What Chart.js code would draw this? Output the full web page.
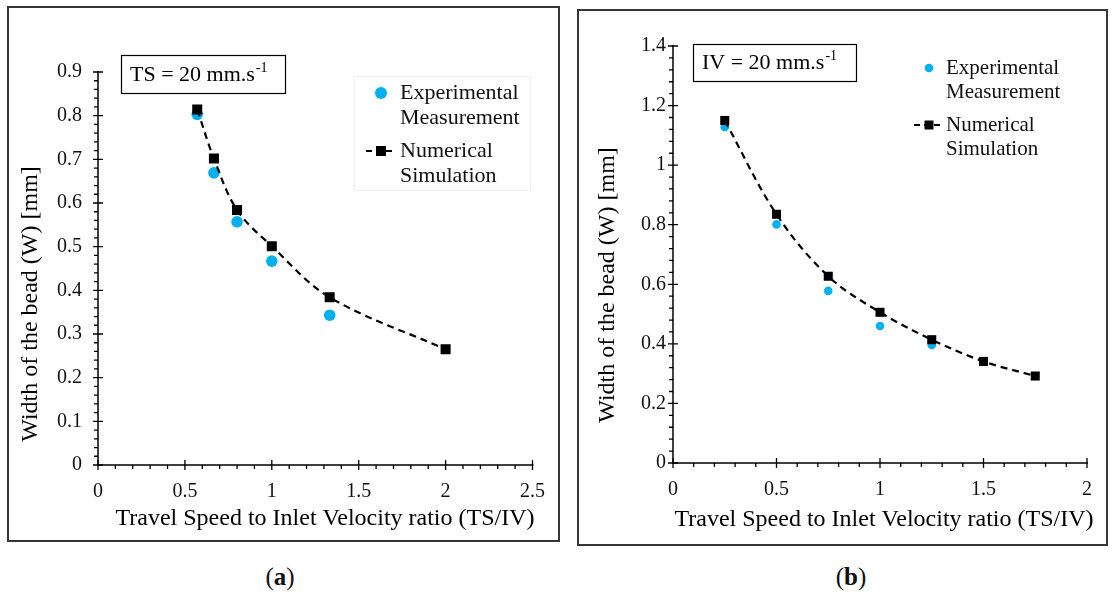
<!DOCTYPE html>
<html>
<head>
<meta charset="utf-8">
<script src="https://cdn.jsdelivr.net/npm/chart.js@4.4.1/dist/chart.umd.min.js"></script>
<style>
  html, body { margin: 0; padding: 0; background: #fff; }
  body { width: 1113px; height: 597px; position: relative; overflow: hidden; }
  .frame { position: absolute; border: 2px solid #363636; box-sizing: border-box; }
  canvas { position: absolute; }
  .cap { position: absolute; top: 563px; width: 80px; text-align: center;
         font-family: 'Liberation Serif', 'Times New Roman', serif; font-size: 25px; color: #111; }
</style>
</head>
<body>
<div class="frame" style="left:7px;top:6px;width:553px;height:536px;"></div>
<div class="frame" style="left:577px;top:9px;width:531px;height:537px;"></div>
<canvas id="chartA" width="560" height="545" style="left:0;top:0;"></canvas>
<canvas id="chartB" width="543" height="550" style="left:570px;top:0;"></canvas>
<div class="cap" style="left:240px;">(<b>a</b>)</div>
<div class="cap" style="left:811px;">(<b>b</b>)</div>

<script>
// ---- (a) constant travel speed, TS = 20 mm/s ----
const ratioSimA = [0.571, 0.667, 0.8, 1.0, 1.333, 2.0];
const widthSimA = [0.814, 0.702, 0.584, 0.501, 0.384, 0.265];
const ratioExpA = [0.571, 0.667, 0.8, 1.0, 1.333];
const widthExpA = [0.803, 0.669, 0.557, 0.467, 0.343];
const xTicksA = [0, 0.5, 1, 1.5, 2, 2.5];
const yTicksA = [0, 0.1, 0.2, 0.3, 0.4, 0.5, 0.6, 0.7, 0.8, 0.9];

// ---- (b) constant inlet velocity, IV = 20 mm/s ----
const ratioSimB = [0.25, 0.5, 0.75, 1.0, 1.25, 1.5, 1.75];
const widthSimB = [1.15, 0.835, 0.627, 0.506, 0.414, 0.341, 0.292];
const ratioExpB = [0.25, 0.5, 0.75, 1.0, 1.25];
const widthExpB = [1.128, 0.801, 0.578, 0.460, 0.396];
const xTicksB = [0, 0.5, 1, 1.5, 2];
const yTicksB = [0, 0.2, 0.4, 0.6, 0.8, 1, 1.2, 1.4];

const expLabel = ['Experimental', 'Measurement'];
const simLabel = ['Numerical', 'Simulation'];
const xTitle = 'Travel Speed to Inlet Velocity ratio (TS/IV)';
const yTitle = 'Width of the bead (W) [mm]';

const SERIF = "'Liberation Serif', 'Times New Roman', serif";
const BLUE = '#00b0f0';

// Axis lines, crossing major ticks, minor ticks, titles, note box and legend
const decor = {
  id: 'decor',
  afterDraw(chart, args, o) {
    const { ctx, chartArea: ca, scales: { x, y } } = chart;
    ctx.save();
    ctx.strokeStyle = '#000';
    ctx.fillStyle = '#000';
    ctx.lineWidth = 1.5;
    ctx.beginPath();
    ctx.moveTo(ca.left, ca.top - 1);
    ctx.lineTo(ca.left, ca.bottom);
    ctx.lineTo(ca.right + 1, ca.bottom);
    ctx.stroke();

    ctx.lineWidth = 1.3;
    const ny = Math.round((y.max - y.min) / o.yMinor);
    const yPer = Math.round(o.yMajor / o.yMinor);
    ctx.beginPath();
    for (let i = 0; i <= ny; i++) {
      const py = y.getPixelForValue(y.min + i * o.yMinor);
      if (i % yPer === 0) { ctx.moveTo(ca.left - 5, py); ctx.lineTo(ca.left + 5, py); }
      else { ctx.moveTo(ca.left - 4, py); ctx.lineTo(ca.left, py); }
    }
    const nx = Math.round((x.max - x.min) / o.xMinor);
    const xPer = Math.round(o.xMajor / o.xMinor);
    for (let i = 0; i <= nx; i++) {
      const px = x.getPixelForValue(x.min + i * o.xMinor);
      if (i % xPer === 0) { ctx.moveTo(px, ca.bottom - 5); ctx.lineTo(px, ca.bottom + 5); }
      else { ctx.moveTo(px, ca.bottom); ctx.lineTo(px, ca.bottom + 4); }
    }
    ctx.stroke();

    // axis titles
    ctx.font = `24px ${SERIF}`;
    ctx.textBaseline = 'middle';
    ctx.textAlign = 'center';
    ctx.fillText(xTitle, o.xTitle[0], o.xTitle[1]);
    ctx.save();
    ctx.translate(o.yTitle[0], o.yTitle[1]);
    ctx.rotate(-Math.PI / 2);
    ctx.fillText(yTitle, 0, 0);
    ctx.restore();

    // condition note box
    const b = o.note;
    ctx.lineWidth = 1.2;
    ctx.strokeRect(b.x + 0.5, b.y + 0.5, b.w, b.h);
    ctx.textAlign = 'left';
    ctx.font = `22px ${SERIF}`;
    ctx.fillText(b.text, b.tx, b.ty);
    const tw = ctx.measureText(b.text).width;
    ctx.font = `14px ${SERIF}`;
    ctx.fillText('-1', b.tx + tw + 1, b.ty - 7);

    // legend
    const L = o.legend;
    if (L.frame) {
      ctx.strokeStyle = '#efefef';
      ctx.lineWidth = 1;
      ctx.strokeRect(L.frame[0] + 0.5, L.frame[1] + 0.5, L.frame[2], L.frame[3]);
      ctx.strokeStyle = '#000';
    }
    ctx.fillStyle = BLUE;
    ctx.beginPath();
    ctx.arc(L.mx, L.y1, L.dotR, 0, Math.PI * 2);
    ctx.fill();
    ctx.strokeStyle = '#000';
    ctx.lineWidth = 2;
    ctx.setLineDash([6, 4]);
    ctx.beginPath();
    ctx.moveTo(L.mx - 15, L.y2);
    ctx.lineTo(L.mx + 11, L.y2);
    ctx.stroke();
    ctx.setLineDash([]);
    ctx.fillStyle = '#000';
    ctx.fillRect(L.mx - L.sq / 2, L.y2 - L.sq / 2, L.sq, L.sq);
    ctx.font = `${L.font}px ${SERIF}`;
    ctx.fillStyle = '#111';
    ctx.fillText(expLabel[0], L.tx, L.y1);
    ctx.fillText(expLabel[1], L.tx, L.y1 + L.gap);
    ctx.fillText(simLabel[0], L.tx, L.y2);
    ctx.fillText(simLabel[1], L.tx, L.y2 + L.gap);
    ctx.restore();
  }
};

function pts(xs, ys) { return xs.map((v, i) => ({ x: v, y: ys[i] })); }

function buildChart(id, s) {
  return new Chart(document.getElementById(id), {
    type: 'scatter',
    data: {
      datasets: [
        {
          label: expLabel.join(' '),
          data: pts(s.expX, s.expY),
          pointStyle: 'circle',
          pointRadius: s.dotR,
          pointBackgroundColor: BLUE,
          pointBorderWidth: 0,
          showLine: false,
          order: 1
        },
        {
          label: simLabel.join(' '),
          data: pts(s.simX, s.simY),
          pointStyle: 'rect',
          pointRadius: s.sqR,
          pointBackgroundColor: '#000',
          pointBorderColor: '#000',
          pointBorderWidth: 0,
          showLine: true,
          borderColor: '#000',
          borderWidth: 2.2,
          borderDash: [7, 5],
          tension: 0.35,
          order: 0
        }
      ]
    },
    options: {
      responsive: false,
      animation: false,
      events: [],
      layout: { padding: s.pad },
      plugins: { legend: { display: false }, tooltip: { enabled: false }, decor: s.decor },
      scales: {
        x: {
          type: 'linear',
          min: s.xTicks[0], max: s.xTicks[s.xTicks.length - 1],
          afterFit: sc => { sc.height = 50; },
          afterBuildTicks: sc => { sc.ticks = s.xTicks.map(v => ({ value: v })); },
          ticks: { font: { family: SERIF, size: 20 }, color: '#111', padding: 15,
                   maxRotation: 0, autoSkip: false, callback: v => String(v) },
          grid: { display: false, drawTicks: false },
          border: { display: false }
        },
        y: {
          type: 'linear',
          min: s.yTicks[0], max: s.yTicks[s.yTicks.length - 1],
          afterFit: sc => { sc.width = 60; },
          afterBuildTicks: sc => { sc.ticks = s.yTicks.map(v => ({ value: v })); },
          ticks: { font: { family: SERIF, size: 20 }, color: '#111', padding: s.yPad,
                   autoSkip: false, callback: v => String(v) },
          grid: { display: false, drawTicks: false },
          border: { display: false }
        }
      }
    },
    plugins: [decor]
  });
}

buildChart('chartA', {
  simX: ratioSimA, simY: widthSimA, expX: ratioExpA, expY: widthExpA,
  xTicks: xTicksA, yTicks: yTicksA,
  dotR: 5.8, sqR: 7.1, yPad: 16,
  pad: { left: 38, top: 72, right: 23, bottom: 30 },
  decor: {
    xMajor: 0.5, xMinor: 0.1, yMajor: 0.1, yMinor: 0.02,
    xTitle: [325, 519], yTitle: [31, 304],
    note: { x: 121, y: 55, w: 164, h: 38, text: 'TS = 20 mm.s', tx: 130, ty: 75 },
    legend: { mx: 381, tx: 400, y1: 93, y2: 151, gap: 25, dotR: 6, sq: 10, font: 22,
              frame: [354, 76, 176, 114] }
  }
});

buildChart('chartB', {
  simX: ratioSimB, simY: widthSimB, expX: ratioExpB, expY: widthExpB,
  xTicks: xTicksB, yTicks: yTicksB,
  dotR: 4.3, sqR: 6.4, yPad: 7,
  pad: { left: 43, top: 46, right: 26, bottom: 37 },
  decor: {
    xMajor: 0.5, xMinor: 0.1, yMajor: 0.2, yMinor: 0.04,
    xTitle: [314, 520], yTitle: [38, 285],
    note: { x: 123, y: 44, w: 163, h: 37, text: 'IV = 20 mm.s', tx: 132, ty: 63 },
    legend: { mx: 359, tx: 376, y1: 68, y2: 125, gap: 24, dotR: 4.3, sq: 9, font: 21 }
  }
});
</script>
</body>
</html>
